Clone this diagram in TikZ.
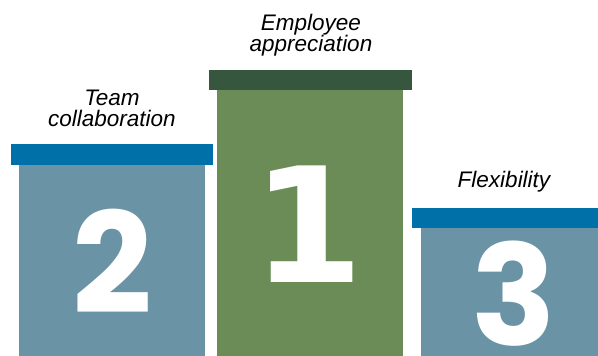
\documentclass[tikz,border=0pt]{standalone}
\usepackage{fontspec}
\setmainfont{Liberation Sans}
\newfontfamily\digitfont{Poppins}
\newfontfamily\onefont{DejaVu Sans}
\definecolor{capblue}{RGB}{0,112,168}
\definecolor{bodyblue}{RGB}{106,147,166}
\definecolor{capgreen}{RGB}{54,87,61}
\definecolor{bodygreen}{RGB}{107,140,87}
\tikzset{
  cap/.style={fill=#1, draw=none},
  body/.style={fill=#1, draw=none},
  label/.style={font=\fontsize{22.5}{21}\selectfont\itshape, align=center, anchor=base, text=black, inner sep=0pt},
  digit/.style={font=\digitfont\bfseries\fontsize{140}{140}\selectfont, text=white, anchor=base, inner sep=0pt}
}
\begin{document}
\begin{tikzpicture}[x=1pt,y=-1pt]
\useasboundingbox (0,0) rectangle (598,356);
% left podium (2)
\path[body=bodyblue] (19,165) rectangle (205,356);
\path[cap=capblue] (11,144) rectangle (213,165);
% center podium (1)
\path[body=bodygreen] (217,90) rectangle (403,356);
\path[cap=capgreen] (209,70) rectangle (412,90);
% right podium (3)
\path[body=bodyblue] (421,228) rectangle (598,356);
\path[cap=capblue] (412,208) rectangle (598,228);
% digits
\node[digit] (d2) at (112,313) {2};
\node[digit, font=\onefont\bfseries\fontsize{160}{160}\selectfont] (d1) at (308,282) {1};
\node[digit] (d3) at (514,345) {3};
% labels
\node[label] (l2) at (112,126) {Team\\collaboration};
\node[label] (l1) at (311,52) {Employee\\appreciation};
\node[label] (l3) at (504,187) {Flexibility};
\end{tikzpicture}
\end{document}
